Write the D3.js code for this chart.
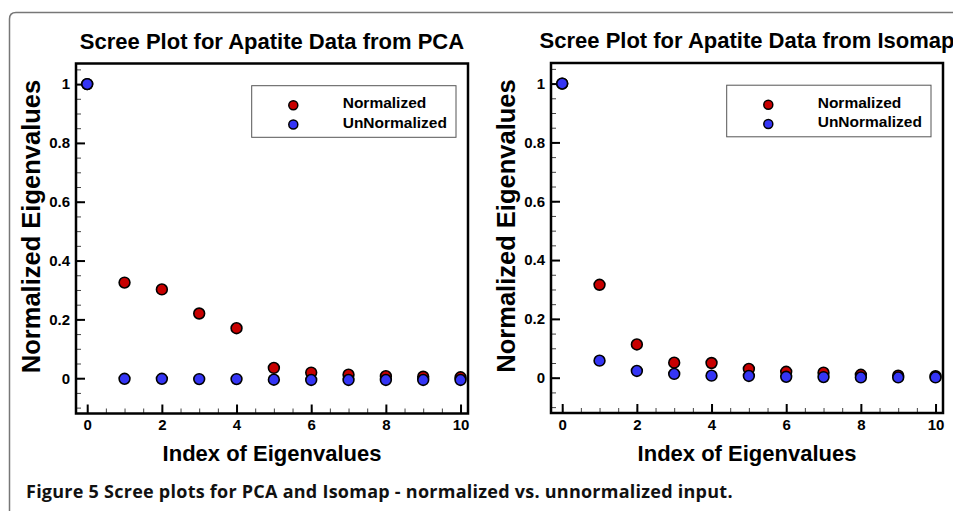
<!DOCTYPE html>
<html>
<head>
<meta charset="utf-8">
<script src="https://cdn.jsdelivr.net/npm/d3@7"></script>
<style>
  body { margin: 0; background: #fff; }
  svg { display: block; }
</style>
</head>
<body>
<div id="chart"></div>
<script>

// data
const indices = [0, 1, 2, 3, 4, 5, 6, 7, 8, 9, 10];

const pcaNormalized = [1, 0.325, 0.302, 0.220, 0.170, 0.035, 0.019, 0.012, 0.007, 0.005, 0.003];
const pcaUnNormalized = [1, -0.002, -0.002, -0.003, -0.003, -0.005, -0.006, -0.006, -0.006, -0.006, -0.006];

const isoNormalized = [1, 0.316, 0.113, 0.051, 0.050, 0.030, 0.020, 0.017, 0.010, 0.007, 0.005];
const isoUnNormalized = [1, 0.058, 0.023, 0.013, 0.007, 0.006, 0.003, 0.002, 0.001, 0.001, 0.001];

const titles = ["Scree Plot for Apatite Data from PCA", "Scree Plot for Apatite Data from Isomap"];
const legendLabels = ["Normalized", "UnNormalized"];
const xTicks = [0, 2, 4, 6, 8, 10];
const yTicks = [0, 0.2, 0.4, 0.6, 0.8, 1];

const caption = "Figure 5 Scree plots for PCA and Isomap - normalized vs. unnormalized input.";

const width = 953;
const height = 511;
const plotW = 392;
const plotH = 350;
const colours = ["#c80000", "#3535f5"];
const font = "'Liberation Sans', Arial, Helvetica, sans-serif";

let svg = d3.select("#chart")
    .append("svg")
    .attr("width", width)
    .attr("height", height);

// figure frame, rounded at top left
svg.append("path")
    .attr("d", "M9.5,511 L9.5,19 Q9.5,12.5 16,12.5 L953,12.5")
    .attr("fill", "none")
    .attr("stroke", "#777")
    .attr("stroke-width", 1.5);

let drawPanel = function(x0, y0, title, series) {

    let g = svg.append("g").attr("transform", `translate(${x0}, ${y0})`);

    let xScale = d3.scaleLinear().domain([-0.3, 10.2]).range([0, plotW]);
    let yScale = d3.scaleLinear().domain([-0.12, 1.07]).range([plotH, 0]);

    // minor ticks
    g.append("g")
        .attr("transform", `translate(0, ${plotH})`)
        .call(d3.axisBottom(xScale).tickValues(d3.range(0, 10.01, 0.5)).tickSize(-5).tickFormat(""))
        .call(a => a.select(".domain").remove())
        .call(a => a.selectAll("line").attr("stroke", "#444").attr("stroke-width", 1));

    g.append("g")
        .call(d3.axisLeft(yScale).tickValues(d3.range(-0.1, 1.051, 0.05)).tickSize(-5).tickFormat(""))
        .call(a => a.select(".domain").remove())
        .call(a => a.selectAll("line").attr("stroke", "#444").attr("stroke-width", 1));

    // major ticks
    g.append("g")
        .attr("transform", `translate(0, ${plotH})`)
        .call(d3.axisBottom(xScale).tickValues(xTicks).tickSize(-9).tickPadding(6).tickFormat(d3.format("d")))
        .call(a => a.select(".domain").remove())
        .call(a => a.selectAll("line").attr("stroke", "#000").attr("stroke-width", 2))
        .call(a => a.selectAll("text")
            .attr("fill", "#000")
            .style("font-family", font)
            .style("font-weight", "bold")
            .style("font-size", "15px"));

    g.append("g")
        .call(d3.axisLeft(yScale).tickValues(yTicks).tickSize(-9).tickPadding(6).tickFormat(d => d === 0 || d === 1 ? d3.format("d")(d) : d3.format(".1f")(d)))
        .call(a => a.select(".domain").remove())
        .call(a => a.selectAll("line").attr("stroke", "#000").attr("stroke-width", 2))
        .call(a => a.selectAll("text")
            .attr("fill", "#000")
            .style("font-family", font)
            .style("font-weight", "bold")
            .style("font-size", "15px"));

    // plot box
    g.append("rect")
        .attr("width", plotW)
        .attr("height", plotH)
        .attr("fill", "none")
        .attr("stroke", "#000")
        .attr("stroke-width", 2.5);

    // points, red first so blue sits on top
    series.forEach(function(values, s) {
        g.append("g")
            .selectAll("circle")
            .data(values)
            .join("circle")
            .attr("cx", (d, i) => xScale(indices[i]))
            .attr("cy", d => yScale(d))
            .attr("r", 5.4)
            .attr("fill", colours[s])
            .attr("stroke", "#000")
            .attr("stroke-width", 1.6);
    });

    // legend
    let legend = g.append("g").attr("transform", "translate(175.7, 22.2)");

    legend.append("rect")
        .attr("width", 204.3)
        .attr("height", 51.6)
        .attr("fill", "#fff")
        .attr("stroke", "#555")
        .attr("stroke-width", 1);

    legend.selectAll("circle")
        .data(legendLabels)
        .join("circle")
        .attr("cx", 41.6)
        .attr("cy", (d, i) => 19.5 + i * 19.3)
        .attr("r", 4.5)
        .attr("fill", (d, i) => colours[i])
        .attr("stroke", "#000")
        .attr("stroke-width", 1.5);

    legend.selectAll("text")
        .data(legendLabels)
        .join("text")
        .attr("x", 91)
        .attr("y", (d, i) => 22.6 + i * 19.3)
        .attr("fill", "#000")
        .style("font-family", font)
        .style("font-weight", "bold")
        .style("font-size", "15.5px")
        .text(d => d);

    // titles and axis labels
    g.append("text")
        .attr("x", plotW / 2)
        .attr("y", -15)
        .attr("text-anchor", "middle")
        .style("font-family", font)
        .style("font-weight", "bold")
        .style("font-size", "22px")
        .text(title);

    g.append("text")
        .attr("x", plotW / 2)
        .attr("y", plotH + 47.5)
        .attr("text-anchor", "middle")
        .style("font-family", font)
        .style("font-weight", "bold")
        .style("font-size", "22px")
        .text("Index of Eigenvalues");

    g.append("text")
        .attr("transform", `translate(-36, 163) rotate(-90)`)
        .attr("text-anchor", "middle")
        .style("font-family", font)
        .style("font-weight", "bold")
        .style("font-size", "25.5px")
        .text("Normalized Eigenvalues");
}

drawPanel(76, 63.5, titles[0], [pcaNormalized, pcaUnNormalized]);
drawPanel(551, 63, titles[1], [isoNormalized, isoUnNormalized]);

svg.append("text")
    .attr("x", 26)
    .attr("y", 498)
    .attr("fill", "#111")
    .style("font-family", "'Open Sans', 'Noto Sans', sans-serif")
    .style("font-weight", "bold")
    .style("font-size", "18px")
    .style("letter-spacing", "0.25px")
    .text(caption);

</script>
</body>
</html>
